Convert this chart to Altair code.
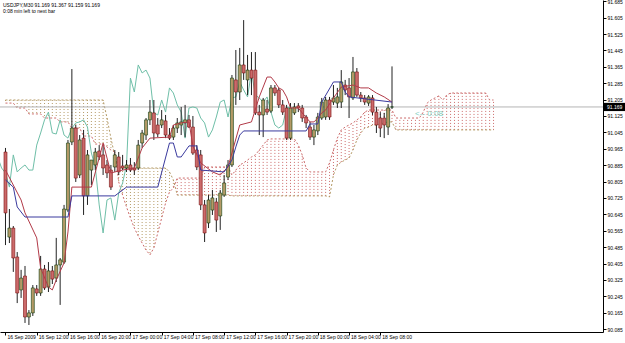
import altair as alt
import pandas as pd

# ---- texts ----
symbol_line = "USDJPY,M30  91.169 91.367 91.159 91.169"
timer_line = "0:08 min left to next bar"
timer_tag = ["<-- 0:08"]
timer_tag_bar = [104.9]
timer_tag_price = [91.137]
bid = 91.169

time_labels = ["16 Sep 2009", "16 Sep 12:00", "16 Sep 16:00", "16 Sep 20:00",
               "17 Sep 00:00", "17 Sep 04:00", "17 Sep 08:00", "17 Sep 12:00",
               "17 Sep 16:00", "17 Sep 20:00", "18 Sep 00:00", "18 Sep 04:00",
               "18 Sep 08:00"]
time_label_bars = [0, 8, 16, 24, 32, 40, 48, 56, 64, 72, 80, 88, 96]
price_ticks = [91.685, 91.605, 91.525, 91.445, 91.365, 91.285, 91.205, 91.125,
               91.045, 90.965, 90.885, 90.805, 90.725, 90.645, 90.565, 90.485,
               90.405, 90.325, 90.245, 90.165, 90.085]

# ---- candles (M30 bars from 16 Sep 08:00) ----
opens = [90.949, 90.534, 90.578, 90.437, 90.276, 90.344, 90.144, 90.164, 90.281, 90.261,
         90.378, 90.290, 90.369, 90.334, 90.398, 90.412, 90.666, 90.998, 91.066, 90.837,
         91.017, 90.735, 90.861, 90.886, 90.954, 90.935, 90.886, 90.861, 90.876, 90.925,
         90.881, 90.871, 90.886, 90.871, 90.871, 90.993, 91.032, 91.106, 91.140, 91.081,
         91.081, 91.101, 91.032, 91.022, 91.066, 91.081, 91.091, 91.106, 91.071, 90.959,
         90.935, 90.691, 90.603, 90.666, 90.705, 90.637, 90.739, 90.827, 90.886, 91.301,
         91.242, 91.374, 91.301, 91.349, 91.349, 91.144, 91.130, 91.159, 91.149, 91.262,
         91.252, 91.179, 91.164, 91.017, 91.140, 91.174, 91.164, 91.120, 91.071, 91.022,
         91.052, 91.115, 91.120, 91.203, 91.193, 91.188, 91.193, 91.276, 91.262, 91.213,
         91.340, 91.227, 91.213, 91.188, 91.213, 91.144, 91.115, 91.115, 91.071, 91.169]
highs = [90.969, 90.671, 90.588, 90.461, 90.374, 90.393, 90.178, 90.300, 90.300, 90.442,
         90.398, 90.412, 90.393, 90.530, 90.432, 90.691, 91.008, 91.354, 91.081, 91.032,
         91.057, 90.959, 90.910, 90.969, 90.983, 90.983, 90.910, 90.886, 90.959, 90.949,
         90.935, 90.910, 90.920, 90.900, 91.008, 91.057, 91.115, 91.203, 91.203, 91.115,
         91.154, 91.130, 91.066, 91.081, 91.115, 91.169, 91.179, 91.130, 91.125, 90.983,
         90.959, 90.715, 90.739, 90.764, 90.725, 90.764, 90.837, 90.910, 91.325, 91.447,
         91.457, 91.593, 91.423, 91.437, 91.437, 91.179, 91.213, 91.203, 91.276, 91.276,
         91.262, 91.203, 91.179, 91.188, 91.188, 91.188, 91.179, 91.130, 91.096, 91.081,
         91.140, 91.213, 91.218, 91.218, 91.276, 91.262, 91.349, 91.301, 91.310, 91.413,
         91.359, 91.242, 91.227, 91.227, 91.227, 91.169, 91.144, 91.140, 91.183, 91.367]
lows = [90.495, 90.505, 90.364, 90.212, 90.237, 90.115, 90.105, 90.149, 90.247, 90.247,
        90.276, 90.266, 90.305, 90.315, 90.203, 90.403, 90.656, 90.983, 90.803, 90.822,
        90.642, 90.691, 90.788, 90.861, 90.910, 90.837, 90.822, 90.764, 90.852, 90.837,
        90.861, 90.852, 90.852, 90.837, 90.861, 90.969, 91.008, 91.081, 91.008, 91.022,
        91.066, 91.017, 91.008, 91.008, 91.042, 91.032, 91.022, 91.066, 90.935, 90.861,
        90.666, 90.510, 90.578, 90.642, 90.559, 90.569, 90.730, 90.813, 90.876, 91.179,
        91.203, 91.301, 91.227, 91.227, 91.130, 91.032, 91.022, 91.130, 91.140, 91.223,
        91.164, 91.130, 91.008, 91.008, 91.130, 91.144, 91.096, 91.066, 91.008, 90.983,
        91.032, 91.106, 91.106, 91.106, 91.179, 91.164, 91.164, 91.227, 91.115, 91.203,
        91.218, 91.193, 91.179, 91.174, 91.130, 91.042, 91.022, 91.017, 91.032, 91.159]
closes = [90.652, 90.578, 90.432, 90.261, 90.334, 90.144, 90.164, 90.286, 90.261, 90.378,
          90.286, 90.369, 90.329, 90.398, 90.423, 90.671, 90.993, 91.066, 90.822, 91.008,
          90.735, 90.935, 90.910, 90.949, 90.925, 90.871, 90.847, 90.778, 90.935, 90.852,
          90.871, 90.886, 90.861, 90.861, 90.983, 91.042, 91.106, 91.144, 91.042, 91.037,
          91.106, 91.032, 91.017, 91.066, 91.091, 91.096, 91.106, 91.071, 90.944, 90.876,
          90.691, 90.554, 90.715, 90.725, 90.617, 90.749, 90.798, 90.886, 91.310, 91.242,
          91.374, 91.335, 91.349, 91.310, 91.140, 91.130, 91.203, 91.144, 91.262, 91.237,
          91.179, 91.144, 91.017, 91.164, 91.169, 91.164, 91.115, 91.091, 91.022, 91.057,
          91.120, 91.193, 91.203, 91.120, 91.213, 91.218, 91.291, 91.252, 91.218, 91.340,
          91.227, 91.213, 91.193, 91.218, 91.144, 91.081, 91.066, 91.081, 91.164, 91.169]

# ---- Ichimoku lines (bar index, price) ----
tenkan_bars = [0, 2, 4, 5, 8, 9, 11, 12, 13, 15, 16, 17, 22, 25, 27, 30, 33, 35, 37, 42,
               43, 45, 47, 48, 50, 53, 55, 57, 60, 63, 65, 67, 68, 69, 70, 71, 72, 73, 75,
               76, 78, 79, 80, 81, 82, 84, 86, 89, 91, 93, 95, 97, 99]
tenkan_vals = [90.861, 90.788, 90.715, 90.652, 90.530, 90.383, 90.290, 90.276, 90.325,
               90.408, 90.559, 90.778, 90.778, 90.993, 90.847, 90.861, 90.871, 90.969,
               91.017, 91.022, 91.081, 91.091, 91.096, 90.979, 90.896, 90.852, 90.837,
               90.876, 91.081, 91.096, 91.218, 91.315, 91.315, 91.291, 91.262, 91.252,
               91.218, 91.164, 91.164, 91.140, 91.096, 91.096, 91.115, 91.140, 91.154,
               91.213, 91.266, 91.276, 91.262, 91.262, 91.237, 91.218, 91.193]
kijun_bars = [0, 2, 3, 5, 16, 17, 28, 31, 39, 42, 43, 44, 45, 47, 49, 50, 56, 58, 59, 60,
              61, 77, 78, 80, 81, 84, 86, 87, 88, 99]
kijun_vals = [90.813, 90.778, 90.681, 90.632, 90.632, 90.735, 90.735, 90.778, 90.778,
              90.993, 90.993, 90.925, 90.925, 90.979, 90.979, 90.861, 90.852, 90.910,
              90.974, 91.032, 91.052, 91.052, 91.086, 91.086, 91.193, 91.291, 91.291,
              91.242, 91.218, 91.193]

# ---- Kumo (bars 0..125, 26 bars ahead of price) ----
span_a = ([91.203] * 26 + [91.115, 91.017, 90.930] + [90.871] * 13 + [90.852, 90.813]
          + [90.739] * 14 + [90.735] * 25
          + [90.730, 90.837, 90.886, 90.900, 90.910, 90.920, 90.959, 91.008, 91.042,
             91.066, 91.071, 91.081, 91.081, 91.086, 91.091, 91.096, 91.096]
          + [91.057] * 26)
span_b = ([91.188] * 3 + [91.164] * 3 + [91.135] * 4 + [91.115] * 4 + [91.096] * 3
          + [91.066] * 3 + [91.027] * 3 + [90.988] * 3 + [90.974, 90.959, 90.949]
          + [90.803, 90.739, 90.681, 90.627, 90.578, 90.539, 90.505, 90.471, 90.447,
             90.481, 90.554, 90.627, 90.700, 90.754, 90.774]
          + [90.822] * 7 + [90.876] * 7
          + [90.837, 90.861, 90.886, 90.896, 90.910, 90.925, 90.935, 90.959, 90.983, 91.008]
          + [91.013] * 7 + [90.983, 90.935, 90.871] + [90.852] * 5
          + [90.896, 90.959, 91.017, 91.057, 91.071, 91.081, 91.091, 91.106, 91.120, 91.144]
          + [91.154] * 7
          + [91.115] * 7 + [91.144, 91.188, 91.203, 91.213, 91.223, 91.203, 91.227]
          + [91.237] * 10 + [91.203] * 2)

# ---- tables ----
candles = pd.DataFrame({"idx": list(range(len(opens))), "open": opens, "high": highs,
                        "low": lows, "close": closes})
cloud = pd.DataFrame({"idx": list(range(len(span_a))), "a": span_a, "b": span_b})
tenkan = pd.DataFrame({"idx": tenkan_bars, "v": tenkan_vals})
kijun = pd.DataFrame({"idx": kijun_bars, "v": kijun_vals})
tag = pd.DataFrame({"idx": timer_tag_bar, "v": timer_tag_price, "t": timer_tag})
bidline = pd.DataFrame({"p": [bid], "hi": [bid + 0.02], "lo": [bid - 0.02],
                        "t": ["%.3f" % bid]})
head = pd.DataFrame({"t": [symbol_line, timer_line], "row": [0, 1]})

FONT = "Liberation Sans"
TAN = "#b49a66"
PINK = "#cc6a6a"

xscale = alt.Scale(domain=[-0.126, 151.76], nice=False, zero=False)
yscale = alt.Scale(domain=[90.0708, 91.691], nice=False, zero=False)
label_expr = "[" + ",".join("'%s'" % t for t in time_labels) + "][round(datum.value/8)]"
xaxis = alt.Axis(values=time_label_bars, labelExpr=label_expr, orient="bottom",
                 labelAlign="left", labelOffset=1.5, labelPadding=-1, tickSize=3,
                 labelFontSize=5, labelFont=FONT, labelColor="black", domainColor="black",
                 tickColor="black", grid=False, title=None, labelOverlap=False,
                 labelFlush=False, labelBound=False)
yaxis = alt.Axis(values=price_ticks, format=".3f", orient="right", tickSize=3,
                 labelPadding=1, labelFontSize=5, labelFont=FONT, labelColor="black",
                 domainColor="black", tickColor="black", grid=False, title=None,
                 labelOverlap=False, labelFlush=False, labelBound=False)


def X(f):
    return alt.X(f, type="quantitative", scale=xscale, axis=xaxis)


def Y(f):
    return alt.Y(f, type="quantitative", scale=yscale, axis=yaxis)


cloud_base = alt.Chart(cloud).transform_calculate(
    kind="datum.a >= datum.b ? 'up' : 'down'")
kumo = cloud_base.mark_rule(strokeDash=[1, 2], strokeWidth=1, clip=True).encode(
    x=X("idx"), y=Y("a"), y2="b",
    color=alt.Color("kind:N", scale=alt.Scale(domain=["up", "down"], range=[TAN, PINK]),
                    legend=None))
line_a = alt.Chart(cloud).mark_line(strokeDash=[2, 2], strokeWidth=1, color=TAN,
                                    clip=True).encode(x=X("idx"), y=Y("a"))
line_b = alt.Chart(cloud).mark_line(strokeDash=[2, 2], strokeWidth=1, color=PINK,
                                    clip=True).encode(x=X("idx"), y=Y("b"))

bid_rule = alt.Chart(bidline).mark_rule(color="#b4b4b4", strokeWidth=1).encode(y=Y("p"))

chikou = alt.Chart(candles).transform_calculate(cidx="datum.idx - 26").mark_line(
    color="#6fbfa8", strokeWidth=1, clip=True).encode(x=X("cidx"), y=Y("close"))

cbase = alt.Chart(candles).transform_calculate(
    dir="datum.close >= datum.open ? 'up' : 'down'")
wick = cbase.mark_rule(color="#222222", strokeWidth=1, clip=True).encode(
    x=X("idx"), y=Y("low"), y2="high")
body = cbase.mark_bar(size=3, strokeWidth=0.6, clip=True).encode(
    x=X("idx"), y=Y("open"), y2="close",
    color=alt.Color("dir:N", scale=alt.Scale(domain=["up", "down"],
                                             range=["#1f7a1f", "#cc2020"]), legend=None),
    stroke=alt.Stroke("dir:N", scale=alt.Scale(domain=["up", "down"],
                                               range=["#0d3d0d", "#7a1010"]), legend=None))

tenkan_line = alt.Chart(tenkan).mark_line(color="#b23a48", strokeWidth=1, clip=True).encode(
    x=X("idx"), y=Y("v"))
kijun_line = alt.Chart(kijun).mark_line(color="#3a3a9e", strokeWidth=1, clip=True).encode(
    x=X("idx"), y=Y("v"))

tag_text = alt.Chart(tag).mark_text(align="left", baseline="middle", fontSize=8,
                                    font=FONT, color="#80cfc0").encode(
    x=X("idx"), y=Y("v"), text="t:N")

box = alt.Chart(bidline).mark_rect(color="black", clip=False).encode(
    x=alt.value(604), x2=alt.value(625), y=Y("hi"), y2="lo")
box_text = alt.Chart(bidline).mark_text(align="left", baseline="middle", fontSize=5,
                                        font=FONT, color="white").encode(
    x=alt.value(607), y=Y("p"), text="t:N")

head1 = alt.Chart(head).transform_filter("datum.row == 0").mark_text(
    align="left", baseline="middle", fontSize=5, font=FONT, color="black").encode(
    x=alt.value(3), y=alt.value(5), text="t:N")
head2 = alt.Chart(head).transform_filter("datum.row == 1").mark_text(
    align="left", baseline="middle", fontSize=5, font=FONT, color="black").encode(
    x=alt.value(3), y=alt.value(11), text="t:N")

chart = alt.layer(
    kumo, line_a, line_b, bid_rule, chikou, wick, body, tenkan_line, kijun_line,
    tag_text, box, box_text, head1, head2
).properties(
    width=603, height=332, autosize="none", background="white",
    padding={"left": 0, "top": 0, "right": 22, "bottom": 11}
).configure_view(stroke=None).configure_axis(
    labelOverlap=False, labelFlush=False, labelBound=False)

chart.save("out.html", embed_options={"renderer": "svg", "actions": False})
